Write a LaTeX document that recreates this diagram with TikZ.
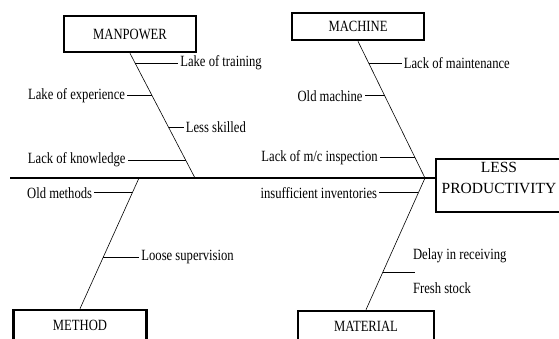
\documentclass[tikz,border=0pt]{standalone}
\usepackage{fontspec}
\setmainfont{Liberation Serif}
\newfontfamily\causefont{Liberation Serif}[FakeStretch=0.81]
\usetikzlibrary{calc}
\begin{document}
\begin{tikzpicture}[x=1pt,y=-1pt,
  catbox/.style={draw,line width=2.6pt,minimum width=132pt,inner sep=0pt,font=\causefont\fontsize{15.6}{18}\selectfont},
  bone/.style={line width=0.6pt},
  spine/.style={line width=1.1pt},
  twig/.style={line width=0.9pt},
  cause/.style={inner sep=2pt,font=\causefont\fontsize{15.6}{18}\selectfont}]
\useasboundingbox (0,0) rectangle (559,338);
\clip (0,0) rectangle (559,338);

\node[catbox,minimum height=36pt] (manpower) at (130,34) {MANPOWER};
\node[catbox,minimum height=27pt] (machine) at (358,26.5) {MACHINE};
\node[catbox,minimum width=133pt,minimum height=30pt] (method) at (80,325) {METHOD};
\node[catbox,minimum width=136pt,minimum height=30pt] (material) at (366,326) {MATERIAL};
\node[catbox,minimum width=126pt,minimum height=53pt] (res) at (499,185.5) {};
\node[align=center,inner sep=0pt,font=\fontsize{15.5}{21}\selectfont] (restext) at ([yshift=8pt]res.center) {LESS\\PRODUCTIVITY};

\coordinate (tail) at (10,178);
\coordinate (head) at (425,178);
\coordinate (mpj) at (195,178);
\coordinate (mtj) at (139,178);

\draw[spine] (tail) -- (tail -| res.west);
\draw[bone] (manpower.south) -- (mpj);
\draw[bone] (machine.south) -- (head);
\draw[bone] (method.north) -- (mtj);
\draw[bone] (material.north) -- (head);

\coordinate (mp1) at ($(manpower.south)!0.079!(mpj)$);
\coordinate (mp2) at ($(manpower.south)!0.341!(mpj)$);
\coordinate (mp3) at ($(manpower.south)!0.595!(mpj)$);
\coordinate (mp4) at ($(manpower.south)!0.857!(mpj)$);
\node[cause,anchor=west] (trn) at ($(mp1)+(43,0)$) {Lake of training};
\node[cause,anchor=east] (exp) at ($(mp2)+(-25,0)$) {Lake of experience};
\node[cause,anchor=west] (skl) at ($(mp3)+(15,0)$) {Less skilled};
\node[cause,anchor=east] (knw) at ($(mp4)+(-58,0)$) {Lack of knowledge};
\draw[twig] (mp1) -- (trn.west);
\draw[twig] (mp2) -- (exp.east);
\draw[twig] (mp3) -- (skl.west);
\draw[twig] (mp4) -- (knw.east);

\coordinate (mc1) at ($(machine.south)!0.159!(head)$);
\coordinate (mc2) at ($(machine.south)!0.399!(head)$);
\coordinate (mc3) at ($(machine.south)!0.848!(head)$);
\node[cause,anchor=west] (mnt) at ($(mc1)+(33,0)$) {Lack of maintenance};
\node[cause,anchor=east] (old) at ($(mc2)+(-20,0)$) {Old machine};
\node[cause,anchor=east] (insp) at ($(mc3)+(-35,0)$) {Lack of m/c inspection};
\draw[twig] (mc1) -- (mnt.west);
\draw[twig] (mc2) -- (old.east);
\draw[twig] (mc3) -- (insp.east);

\coordinate (mt1) at ($(mtj)!0.114!(method.north)$);
\coordinate (mt2) at ($(mtj)!0.606!(method.north)$);
\node[cause,anchor=east] (omt) at ($(mt1)+(-38,0)$) {Old methods};
\node[cause,anchor=west] (sup) at ($(mt2)+(36,0)$) {Loose supervision};
\draw[twig] (mt1) -- (omt.east);
\draw[twig] (mt2) -- (sup.west);

\coordinate (ma1) at ($(head)!0.113!(material.north)$);
\coordinate (ma2) at ($(head)!0.714!(material.north)$);
\coordinate (dly) at ($(ma2)+(32,0)$);
\node[cause,anchor=east] (inv) at ($(ma1)+(-39,0)$) {insufficient inventories};
\node[cause,anchor=west] (rcv) at ($(ma2)+(28,-16)$) {Delay in receiving};
\node[cause,anchor=west] (frs) at ($(ma2)+(28,16)$) {Fresh stock};
\draw[twig] (ma1) -- (inv.east);
\draw[twig] (ma2) -- (dly);
\end{tikzpicture}
\end{document}
